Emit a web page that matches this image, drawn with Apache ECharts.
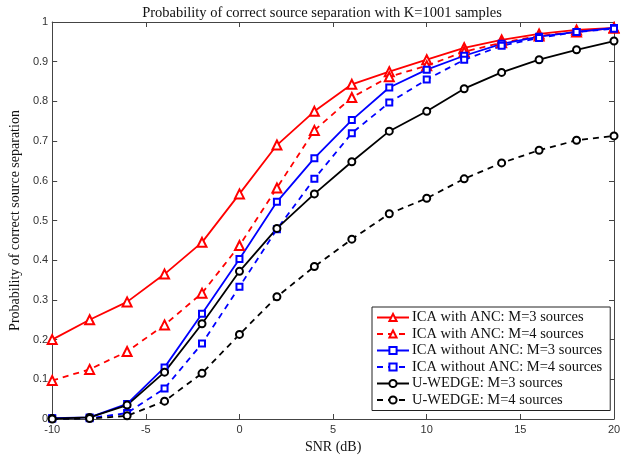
<!DOCTYPE html>
<html>
<head>
<meta charset="utf-8">
<script src="https://cdn.jsdelivr.net/npm/echarts@6/dist/echarts.min.js"></script>
<style>
  html, body { margin: 0; padding: 0; background: #fff; }
  #main { width: 644px; height: 459px; }
</style>
</head>
<body>
<div id="main"></div>
<script>
(function () {
    var snr = [-10, -8, -6, -4, -2, 0, 2, 4, 6, 8, 10, 12, 14, 16, 18, 20];

    var icaAnc3 = [0.200, 0.250, 0.295, 0.365, 0.445, 0.567, 0.690, 0.775, 0.843, 0.875, 0.905, 0.935, 0.955, 0.970, 0.980, 0.985];
    var icaAnc4 = [0.097, 0.125, 0.170, 0.237, 0.317, 0.437, 0.582, 0.727, 0.810, 0.862, 0.890, 0.925, 0.948, 0.965, 0.975, 0.985];
    var ica3 = [0.002, 0.004, 0.038, 0.130, 0.265, 0.403, 0.547, 0.657, 0.753, 0.835, 0.880, 0.915, 0.945, 0.963, 0.975, 0.985];
    var ica4 = [0.001, 0.002, 0.015, 0.077, 0.190, 0.333, 0.478, 0.605, 0.720, 0.797, 0.855, 0.905, 0.940, 0.960, 0.975, 0.983];
    var uwedge3 = [0.001, 0.004, 0.035, 0.118, 0.240, 0.372, 0.480, 0.567, 0.648, 0.725, 0.775, 0.832, 0.873, 0.905, 0.930, 0.952];
    var uwedge4 = [0.000, 0.001, 0.008, 0.045, 0.115, 0.213, 0.308, 0.384, 0.453, 0.517, 0.556, 0.605, 0.645, 0.677, 0.702, 0.713];

    var seriesNames = [
        'ICA with ANC: M=3 sources',
        'ICA with ANC: M=4 sources',
        'ICA without ANC: M=3 sources',
        'ICA without ANC: M=4 sources',
        'U-WEDGE: M=3 sources',
        'U-WEDGE: M=4 sources'
    ];

    var pair = function (ys) {
        var res = [];
        for (var i = 0; i < snr.length; i++) {
            res.push([snr[i], ys[i]]);
        }
        return res;
    };

    var mk = function (name, ys, color, type, symbol, size) {
        return {
            name: name,
            type: 'line',
            data: pair(ys),
            symbol: symbol,
            symbolSize: size,
            showAllSymbol: true,
            lineStyle: { color: color, width: 1.8, type: type === 'dashed' ? [6, 5] : 'solid' },
            itemStyle: { color: '#fff', borderColor: color, borderWidth: 2 },
            emphasis: { disabled: true },
            animation: false
        };
    };

    var serif = '"Liberation Serif", "DejaVu Serif", serif';
    var sans = '"Liberation Sans", Arial, sans-serif';
    var frame = '#444';

    var myChart = echarts.init(document.getElementById('main'));

    var option = {
        backgroundColor: '#fff',
        title: {
            text: 'Probability of correct source separation with K=1001 samples',
            left: 'center',
            top: 1,
            textStyle: { fontFamily: serif, fontSize: 14.5, fontWeight: 'normal', color: '#111' }
        },
        grid: { left: 49, right: 30, top: 22, bottom: 40 },
        legend: {
            orient: 'vertical',
            left: 372,
            top: 307,
            width: 238,
            backgroundColor: '#fff',
            borderColor: '#222',
            borderWidth: 1,
            padding: [3, 8, 3, 4],
            itemWidth: 32,
            itemHeight: 9,
            itemGap: 1.5,
            textStyle: { fontFamily: serif, fontSize: 14.5, lineHeight: 15, color: '#111', padding: [0, 0, 0, -2] },
            data: seriesNames
        },
        xAxis: [{
            type: 'value',
            min: -10, max: 20, interval: 5,
            name: 'SNR (dB)',
            nameLocation: 'middle',
            nameGap: 18,
            nameTextStyle: { fontFamily: serif, fontSize: 14, color: '#111' },
            axisLine: { onZero: false, lineStyle: { color: frame } },
            axisTick: { inside: true, length: 5, lineStyle: { color: frame } },
            axisLabel: { fontFamily: sans, fontSize: 11, color: '#333', margin: 5 },
            splitLine: { show: false }
        }, {
            type: 'value', position: 'top',
            min: -10, max: 20, interval: 5,
            axisLine: { onZero: false, lineStyle: { color: frame } },
            axisTick: { inside: true, length: 5, lineStyle: { color: frame } },
            axisLabel: { show: false },
            splitLine: { show: false }
        }],
        yAxis: [{
            type: 'value',
            min: 0, max: 1, interval: 0.1,
            name: 'Probability of correct source separation',
            nameLocation: 'middle',
            nameGap: 22,
            nameTextStyle: { fontFamily: serif, fontSize: 14, color: '#111' },
            axisLine: { show: true, onZero: false, lineStyle: { color: frame } },
            axisTick: { show: true, inside: true, length: 5, lineStyle: { color: frame } },
            axisLabel: {
                fontFamily: sans, fontSize: 11, color: '#333', margin: 4,
                formatter: function (v) { return String(Math.round(v * 10) / 10); }
            },
            splitLine: { show: false }
        }, {
            type: 'value', position: 'right',
            min: 0, max: 1, interval: 0.1,
            axisLine: { show: true, onZero: false, lineStyle: { color: frame } },
            axisTick: { show: true, inside: true, length: 5, lineStyle: { color: frame } },
            axisLabel: { show: false },
            splitLine: { show: false }
        }],
        series: [
            mk(seriesNames[0], icaAnc3, '#ff0000', 'solid', 'triangle', 9),
            mk(seriesNames[1], icaAnc4, '#ff0000', 'dashed', 'triangle', 9),
            mk(seriesNames[2], ica3, '#0000ff', 'solid', 'rect', 6),
            mk(seriesNames[3], ica4, '#0000ff', 'dashed', 'rect', 6),
            mk(seriesNames[4], uwedge3, '#000000', 'solid', 'circle', 7),
            mk(seriesNames[5], uwedge4, '#000000', 'dashed', 'circle', 7)
        ]
    };

    myChart.setOption(option);
})();
</script>
</body>
</html>
